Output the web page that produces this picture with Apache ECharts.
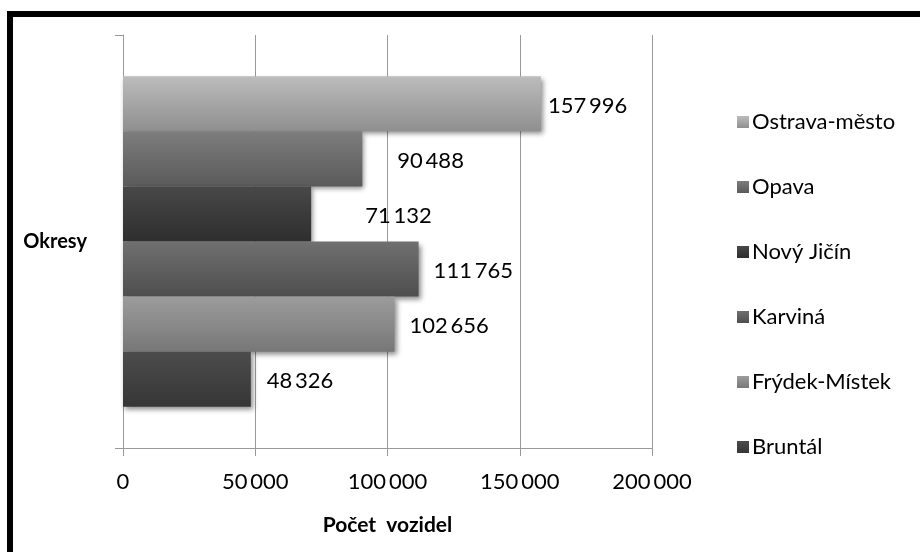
<!DOCTYPE html>
<html>
<head>
<meta charset="utf-8">
<script src="https://cdn.jsdelivr.net/npm/echarts@6/dist/echarts.min.js"></script>
<style>
html,body{margin:0;padding:0;background:#fff;}
#chart{width:920px;height:552px;}
</style>
</head>
<body>
<div id="chart"></div>
<script>
// Data (top-to-bottom order as drawn)
const categories = ['Okresy'];
const seriesNames = ['Ostrava-město', 'Opava', 'Nový Jičín', 'Karviná', 'Frýdek-Místek', 'Bruntál'];
const seriesValues = [157996, 90488, 71132, 111765, 102656, 48326];
const xTickValues = [0, 50000, 100000, 150000, 200000];

const gradients = [
  ['#bcbcbc', '#8f8f8f'],
  ['#7d7d7d', '#5a5a5a'],
  ['#484848', '#2e2e2e'],
  ['#707070', '#4e4e4e'],
  ['#9c9c9c', '#777777'],
  ['#4c4c4c', '#363636']
];
const labelDist = [7, 35, 54, 15, 15, 16];

const FONT = 'Lato';
function fmt(v) {
  return String(v).replace(/\B(?=(\d{3})+(?!\d))/g, '\u2009');
}

const chart = echarts.init(document.getElementById('chart'));
chart.setOption({
  animation: false,
  backgroundColor: '#fff',
  textStyle: { fontFamily: FONT },
  grid: { left: 123, right: 268, top: 35, bottom: 104, containLabel: false },
  legend: {
    orient: 'vertical',
    left: 732,
    top: 106,
    itemWidth: 12,
    itemHeight: 12,
    itemGap: 43,
    icon: 'rect',
    data: seriesNames,
    textStyle: { fontFamily: FONT, fontSize: 22, color: '#000', lineHeight: 22, padding: [0, 0, 0, -2] }
  },
  xAxis: {
    type: 'value',
    min: xTickValues[0],
    max: xTickValues[xTickValues.length - 1],
    interval: xTickValues[1] - xTickValues[0],
    name: 'Počet  vozidel',
    nameLocation: 'middle',
    nameGap: 67,
    nameTextStyle: { fontFamily: FONT, fontSize: 21, fontWeight: 'bold', color: '#000' },
    axisLine: { show: true, lineStyle: { color: '#999', width: 1 } },
    axisTick: { show: true, length: 8, lineStyle: { color: '#999' } },
    axisLabel: {
      margin: 23, fontFamily: FONT, fontSize: 22, color: '#000',
      formatter: function (v) { return fmt(v); }
    },
    splitLine: { show: true, lineStyle: { color: '#999', width: 1 } }
  },
  yAxis: {
    type: 'category',
    data: categories,
    name: 'Okresy',
    nameLocation: 'middle',
    nameRotate: 0,
    nameGap: 36,
    nameTextStyle: { fontFamily: FONT, fontSize: 20, fontWeight: 'bold', color: '#000', align: 'right' },
    axisLine: { show: true, lineStyle: { color: '#999', width: 1 } },
    axisTick: { show: true, length: 8, lineStyle: { color: '#999' } },
    axisLabel: { show: false }
  },
  series: seriesNames.map(function (name, i) {
    return {
      name: name,
      type: 'bar',
      data: [seriesValues[i]],
      barGap: '0%',
      barCategoryGap: '20%',
      itemStyle: {
        color: new echarts.graphic.LinearGradient(0, 0, 0, 1, [
          { offset: 0, color: gradients[i][0] },
          { offset: 1, color: gradients[i][1] }
        ]),
        shadowColor: 'rgba(0,0,0,0.45)',
        shadowBlur: 5,
        shadowOffsetX: 2,
        shadowOffsetY: 3
      },
      label: {
        show: true,
        position: 'right',
        distance: labelDist[i],
        offset: [0, 2],
        fontFamily: FONT,
        fontSize: 22,
        color: '#000',
        formatter: function (p) { return fmt(p.value); }
      }
    };
  }),
  graphic: [
    { type: 'rect', silent: true, z: 100, shape: { x: 7, y: 11, width: 6, height: 560 }, style: { fill: '#000' } },
    { type: 'rect', silent: true, z: 100, shape: { x: 7, y: 11, width: 930, height: 6 }, style: { fill: '#000' } }
  ]
});
</script>
</body>
</html>
